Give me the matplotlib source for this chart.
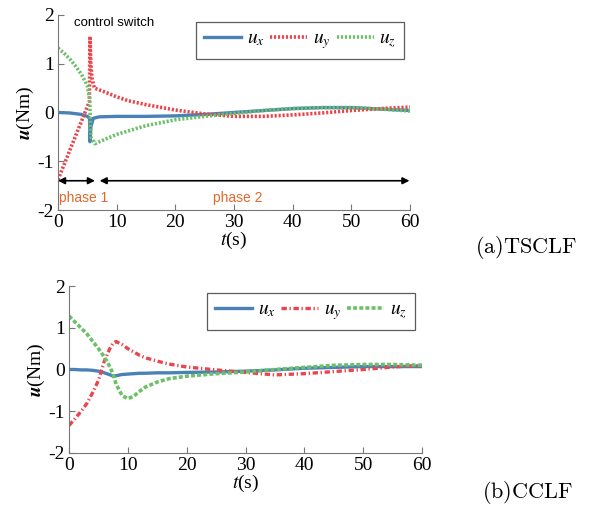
import matplotlib
matplotlib.use("Agg")
import matplotlib.pyplot as plt

plt.rcParams["font.family"] = ["Liberation Serif", "DejaVu Serif"]
plt.rcParams["mathtext.fontset"] = "stix"

# (a) TSCLF
t_ax = [0, 2, 4, 5, 5.4, 5.45, 5.6, 6.0, 7, 10, 15, 20, 25, 30, 35, 40, 45, 50, 55, 60]
ux_a = [0, -0.01, -0.04, -0.08, -0.12, -0.6, -0.3, -0.12, -0.09, -0.08, -0.08, -0.07, -0.04, 0, 0.04, 0.08, 0.1, 0.1, 0.07, 0.04]

t_ay = [0, 1, 2, 3, 4, 5, 5.35, 5.45, 5.6, 5.8, 6.2, 8, 10, 12, 15, 20, 25, 30, 35, 40, 45, 50, 55, 60]
uy_a = [-1.38, -1.08, -0.78, -0.48, -0.18, 0.12, 0.22, 1.56, 1.0, 0.7, 0.5, 0.42, 0.32, 0.24, 0.16, 0.05, -0.03, -0.08, -0.08, -0.05, -0.01, 0.04, 0.08, 0.11]

t_az = [0, 1, 2, 3, 4, 5, 5.4, 5.6, 6.3, 8, 10, 15, 20, 25, 30, 35, 40, 45, 50, 55, 60]
uz_a = [1.32, 1.22, 1.1, 0.95, 0.78, 0.55, 0.28, -0.5, -0.64, -0.55, -0.45, -0.27, -0.15, -0.08, -0.02, 0.04, 0.08, 0.1, 0.1, 0.07, 0.03]

# (b) CCLF
t_b = [0, 1, 2, 3, 4, 5, 6, 7, 7.5, 8, 9, 10, 11, 12, 13, 15, 17, 20, 25, 30, 35, 40, 45, 50, 55, 60]
ux_b = [0, 0, -0.01, -0.01, -0.02, -0.04, -0.08, -0.13, -0.16, -0.15, -0.12, -0.11, -0.1, -0.09, -0.09, -0.08, -0.08, -0.07, -0.06, -0.04, -0.01, 0.03, 0.05, 0.07, 0.07, 0.07]
uy_b = [-1.34, -1.18, -1.01, -0.82, -0.56, -0.26, 0.2, 0.52, 0.63, 0.67, 0.6, 0.5, 0.42, 0.34, 0.28, 0.2, 0.13, 0.06, -0.01, -0.07, -0.13, -0.1, -0.05, 0.0, 0.06, 0.1]
uz_b = [1.28, 1.14, 1.0, 0.86, 0.68, 0.5, 0.3, 0.05, -0.12, -0.35, -0.62, -0.7, -0.64, -0.52, -0.42, -0.3, -0.22, -0.16, -0.1, -0.06, 0.0, 0.05, 0.1, 0.12, 0.12, 0.1]

xticks = [0, 10, 20, 30, 40, 50, 60]
yticks = [-2, -1, 0, 1, 2]
labels = ["$u_x$", "$u_y$", "$u_z$"]

blue = "#4a82b8"
red = "#e8464c"
green = "#6cc06a"
orange = "#e2682c"

fig = plt.figure(figsize=(6.06, 5.08), dpi=100)
ax1 = fig.add_axes([0.0957, 0.5866, 0.581, 0.384])
ax2 = fig.add_axes([0.1139, 0.1083, 0.5825, 0.3287])

ax1.plot(t_ax, ux_a, color=blue, lw=2.4, label=labels[0])
ax1.plot(t_ay, uy_a, color=red, lw=2.6, linestyle=(0, (0.6, 0.5)), label=labels[1])
ax1.plot(t_az, uz_a, color=green, lw=2.6, linestyle=(0, (0.6, 0.5)), label=labels[2])

ax2.plot(t_b, ux_b, color=blue, lw=2.4, label=labels[0])
ax2.plot(t_b, uy_b, color=red, lw=2.4, linestyle=(0, (1.6, 0.8, 0.4, 0.8)), label=labels[1])
ax2.plot(t_b, uz_b, color=green, lw=2.6, linestyle=(0, (1.1, 0.6)), label=labels[2])

for ax, anchor in [(ax1, (0.983, 0.964)), (ax2, (0.98, 0.958))]:
    ax.set_xlim(0, 60)
    ax.set_ylim(-2, 2)
    ax.set_xticks(xticks)
    ax.set_yticks(yticks)
    ax.set_yticklabels([str(v) for v in yticks])
    ax.spines["top"].set_visible(False)
    ax.spines["right"].set_visible(False)
    ax.spines["left"].set_color("#777777")
    ax.spines["bottom"].set_color("#777777")
    ax.tick_params(direction="in", length=4, color="#777777", labelsize=14, pad=3)
    ax.set_xlabel("$t$(s)", fontsize=14, labelpad=-1)
    ax.set_ylabel(r"$\mathbfit{u}$(Nm)", fontsize=14, labelpad=1)
    leg = ax.legend(loc="upper right", bbox_to_anchor=anchor, ncol=3, fontsize=14,
                    frameon=True, fancybox=False, edgecolor="#333333",
                    handlelength=1.9, handletextpad=0.3, columnspacing=0.3,
                    borderaxespad=0, borderpad=0.4)
    leg.get_frame().set_linewidth(0.9)

# annotations on the TSCLF panel
ax1.text(2.8, 1.84, "control switch", fontsize=9.5, family="Liberation Sans", va="center", ha="left", zorder=5)
ax1.annotate("", xy=(0, -1.4), xytext=(6.3, -1.4),
             arrowprops=dict(arrowstyle="<|-|>", color="black", lw=1.2, shrinkA=0, shrinkB=0,
                             mutation_scale=10))
ax1.annotate("", xy=(7.1, -1.4), xytext=(59.9, -1.4),
             arrowprops=dict(arrowstyle="<|-|>", color="black", lw=1.2, shrinkA=0, shrinkB=0,
                             mutation_scale=10))
ax1.text(0.2, -1.75, "phase 1", fontsize=10, family="Liberation Sans", color=orange, va="center", ha="left")
ax1.text(26.4, -1.75, "phase 2", fontsize=10, family="Liberation Sans", color=orange, va="center", ha="left")

fig.text(0.868, 0.512, r"$\mathrm{(a)TSCLF}$", fontsize=16, math_fontfamily="cm", ha="center", va="center")
fig.text(0.87, 0.03, r"$\mathrm{(b)CCLF}$", fontsize=16, math_fontfamily="cm", ha="center", va="center")

fig.savefig("out.png", dpi=100)
